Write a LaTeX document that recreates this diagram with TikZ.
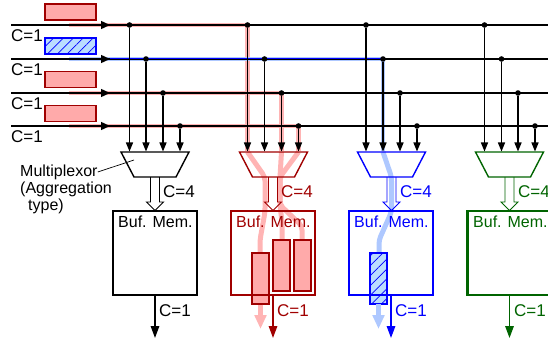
\documentclass[tikz,border=0pt]{standalone}
\usepackage{fontspec}
\setmainfont{Liberation Sans}
\usetikzlibrary{arrows.meta,patterns.meta}
\definecolor{dred}{HTML}{A00000}
\definecolor{pinkf}{HTML}{FFAAAA}
\definecolor{pinkl}{HTML}{FFB4B4}
\definecolor{dblue}{HTML}{0000FF}
\definecolor{bluef}{HTML}{BBDDFF}
\definecolor{bluel}{HTML}{AEC8FF}
\definecolor{dgreen}{HTML}{006400}
\tikzset{
  x=1pt,y=-1pt,
  wire/.style={line width=1.4pt,black},
  hl/.style={line width=4.4pt,line join=miter},
  flow/.style={line width=5pt,rounded corners=4pt},
  tap/.style={line width=1.4pt,-{Triangle[length=9pt,width=7pt]}},
  dot/.style={circle,fill=black,inner sep=0pt,minimum size=5.6pt},
  mid/.style={-{Triangle[length=9pt,width=8pt]}},
  mem/.style={rectangle,draw,line width=2.4pt,minimum width=84pt,minimum height=84pt,inner sep=0pt},
  lab/.style={font=\fontsize{16}{18}\selectfont,inner sep=0pt},
  clab/.style={font=\fontsize{17}{18}\selectfont,inner sep=0pt,anchor=west},
  packet/.style={rectangle,draw=dred,fill=pinkf,line width=1.4pt,inner sep=0pt},
  bpacket/.style={rectangle,draw=dblue,line width=1.4pt,inner sep=0pt},
  hatchfill/.style={pattern={Lines[angle=45,distance=7pt,line width=.7pt]},pattern color=dblue},
}
\newcommand{\openarrow}[2]{% x center, colour
  \draw[#2,line width=.9pt] (#1-4.5,177) -- (#1-4.5,202) -- (#1-8.5,202) -- (#1,210.5) -- (#1+8.5,202) -- (#1+4.5,202) -- (#1+4.5,177);
}
\newcommand{\mux}[2]{% x center, colour
  \draw[#2,line width=1.4pt] (#1-34,152) -- (#1+34,152) -- (#1+21,177) -- (#1-21,177) -- cycle;
}
\begin{document}
\begin{tikzpicture}
\useasboundingbox (0,0) rectangle (548,339);
% anchor points
\foreach \n/\y in {1/25,2/59,3/93,4/126}{
  \coordinate (L\n) at (11,\y);
  \coordinate (R\n) at (548,\y);
  \coordinate (H\n) at (69,\y);
  \coordinate (T\n) at (110,\y);
}
% highlights
\draw[hl,pinkl] (H1) -- (247.5,25) -- (247.5,151);
\draw[hl,pinkl] (H3) -- (281.5,93) -- (281.5,151);
\draw[hl,pinkl] (H4) -- (298.5,126) -- (298.5,151);
\draw[hl,bluel] (H2) -- (383,59) -- (383,151);
% flows
\draw[flow,pinkl] (247.5,152) -- (265,177) -- (265,212) -- (260,240) -- (260,253);
\draw[flow,pinkl] (281.5,152) -- (280,177) -- (280,205) -- (282,222) -- (282,240);
\draw[flow,pinkl] (298.5,152) -- (280,177) -- (280,205) -- (302,226) -- (302,240);
\draw[flow,bluel] (383,152) -- (391.5,177) -- (391.5,212) -- (379,240) -- (379,253);
% horizontal wires
\foreach \n in {1,2,3,4}{\draw[wire] (L\n) -- (R\n);}
\draw[line width=1pt,dblue] (T2) -- (383,59);
% line arrows
\foreach \n in {1,2,3,4}{\draw[wire,mid] (H\n) -- (T\n);}
% muxes
\mux{155}{black}
\mux{273.5}{dred}
\mux{391.5}{dblue}
\mux{509.5}{dgreen}
% taps
\foreach \x/\y/\m in {129.5/25/a,146/59/b,163/93/c,180/126/d,
  247.5/25/e,264.5/59/f,281.5/93/g,298.5/126/h,
  366/25/i,383/59/j,400/93/k,417/126/l,
  484.5/25/m,501.5/59/n,518/93/o,535/126/p}{
  \node[dot] (d\m) at (\x,\y) {};
  \coordinate (e\m) at (\x,151.5);
  \draw[tap] (d\m) -- (e\m);
}
% open arrows
\openarrow{155}{black}
\openarrow{273}{dred}
\openarrow{391.5}{dblue}
\openarrow{509.5}{dgreen}
% packets in buffers
\node[packet,minimum width=17pt,minimum height=51pt] (p1) at (260.5,278.5) {};
\node[packet,minimum width=17pt,minimum height=51pt] (p2) at (281.5,265.5) {};
\node[packet,minimum width=17pt,minimum height=51pt] (p3) at (302.5,265.5) {};
\fill[bluef] (370,253) rectangle (387,304);
\node[bpacket,hatchfill,minimum width=17pt,minimum height=51pt] (p4) at (378.5,278.5) {};
% memories
\node[mem,black]  (b1) at (155,253) {};
\node[mem,dred]   (b2) at (273,253) {};
\node[mem,dblue]  (b3) at (391,253) {};
\node[mem,dgreen] (b4) at (509.5,253) {};
% faded output arrows
\coordinate (f1) at (260.5,329);
\coordinate (f2) at (378.5,329);
\draw[line width=4.5pt,pinkl,-{Triangle[length=14pt,width=11.5pt]}] (p1.south) -- (f1);
\draw[line width=4.5pt,bluel,-{Triangle[length=14pt,width=11.5pt]}] (p4.south) -- (f2);
% outputs
\foreach \b/\x/\c/\n in {b1/155/black/o1,b2/273/dred/o2,b3/391/dblue/o3,b4/509.5/dgreen/o4}{
  \coordinate (\n) at (\x,338);
  \draw[line width=1.5pt,\c,-{Triangle[length=12pt,width=8.5pt]}] (\b.south) -- (\n);
}
% input packets
\node[packet,minimum width=51pt,minimum height=16pt] (i1) at (70.5,12) {};
\fill[bluef] (45,38) rectangle (96,54);
\node[bpacket,hatchfill,minimum width=51pt,minimum height=16pt] (i2) at (70.5,46) {};
\node[packet,minimum width=51pt,minimum height=16pt] (i3) at (70.5,79.5) {};
\node[packet,minimum width=51pt,minimum height=16pt] (i4) at (70.5,113.5) {};
% labels
\foreach \n/\y in {a/36,b/70,c/104,d/137}{\node[clab] (c\n) at (11,\y) {C=1};}
\node[clab] (k1) at (163,192) {C=4};
\node[clab,dred] (k2) at (281,192) {C=4};
\node[clab,dblue] (k3) at (400,192) {C=4};
\node[clab,dgreen] (k4) at (518,192) {C=4};
\foreach \x/\c/\n in {118/black/1,236/dred/2,354/dblue/3,473/dgreen/4}{\node[lab,anchor=west,\c] (t\n) at (\x,222) {Buf. Mem.};}
\node[clab] (q1) at (159,311) {C=1};
\node[clab,dred] (q2) at (277,311) {C=1};
\node[clab,dblue] (q3) at (395,311) {C=1};
\node[clab,dgreen] (q4) at (514,311) {C=1};
\node[lab,anchor=west] (mx) at (20,172) {Multiplexor};
\node[lab,anchor=west] (ag) at (20,189) {(Aggregation};
\node[lab,anchor=west] (ty) at (28,206) {type)};
\coordinate (mxp) at (134,160);
\draw[line width=.7pt] (mx.east) -- (mxp);
\end{tikzpicture}
\end{document}
